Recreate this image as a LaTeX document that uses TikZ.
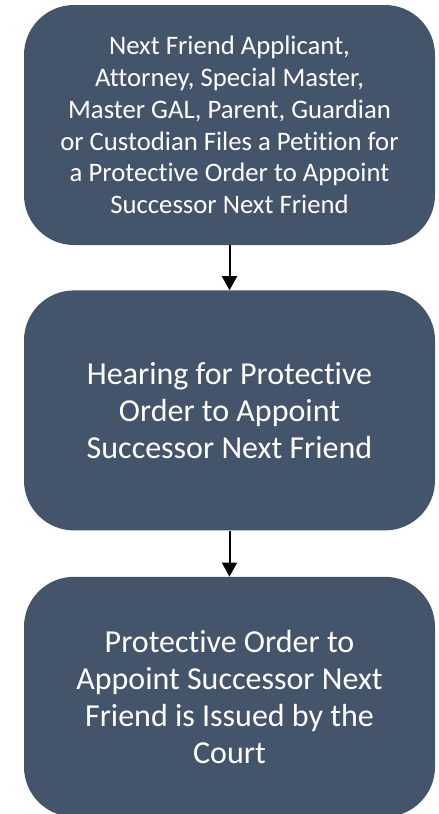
\documentclass[tikz,border=0pt]{standalone}
\usepackage{fontspec}
\setmainfont{Carlito}[RawFeature={-liga;-clig;-calt;-dlig}]
\usetikzlibrary{arrows.meta,positioning}
\definecolor{slate}{HTML}{44546A}

\begin{document}
\begin{tikzpicture}[
      box/.style={rectangle, fill=slate, rounded corners=50pt, align=center, text=white,
                  minimum height=240pt, minimum width=411pt, inner sep=0pt},
      arr/.style={-{Triangle[width=15pt,length=14pt]}, line width=2pt}]
    \useasboundingbox (0,0) rectangle (439pt,-814pt);
    \node[box, font=\fontsize{26.7}{31.8}\selectfont] (petition) at (229.5pt,-125pt)
      {Next Friend Applicant,\\Attorney, Special Master,\\Master GAL, Parent, Guardian\\or Custodian Files a Petition for\\a Protective Order to Appoint\\Successor Next Friend};
    \node[box, below=45pt of petition, font=\fontsize{32}{37}\selectfont] (hearing)
      {Hearing for Protective\\Order to Appoint\\Successor Next Friend};
    \node[box, below=46pt of hearing, font=\fontsize{32}{37}\selectfont] (issued)
      {Protective Order to\\Appoint Successor Next\\Friend is Issued by the\\Court};
    \draw[arr] (petition) -- (hearing);
    \draw[arr] (hearing) -- (issued);
  \end{tikzpicture}
\end{document}
